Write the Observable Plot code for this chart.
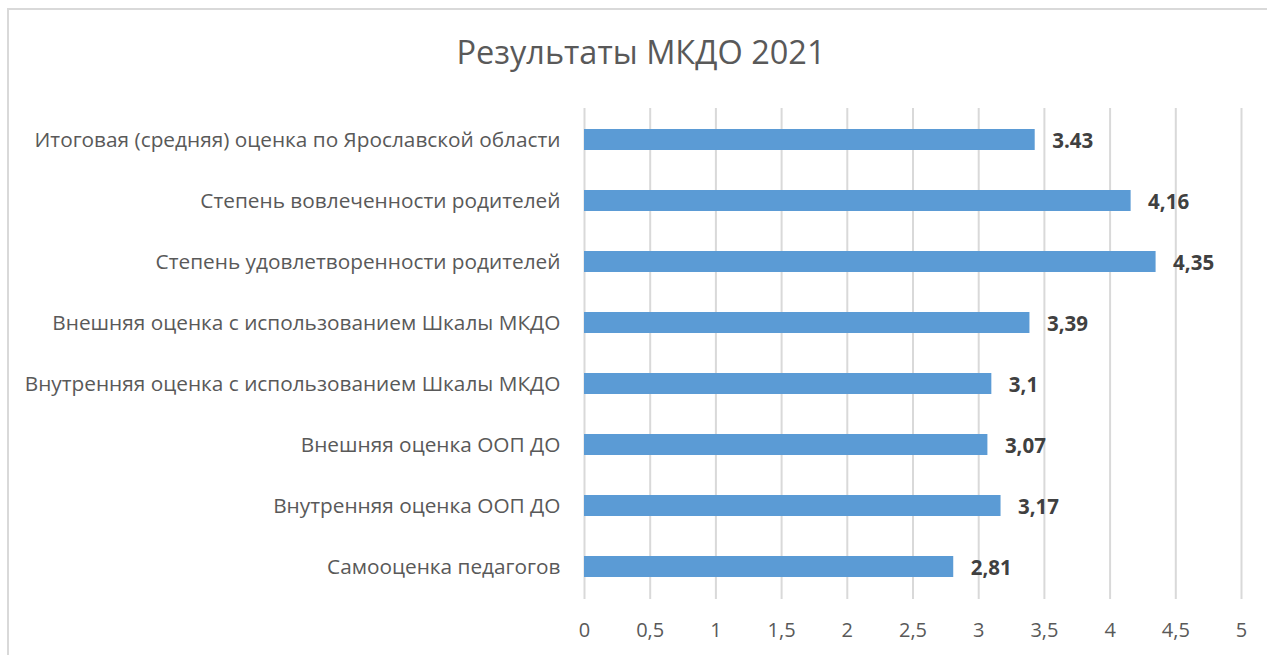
<!DOCTYPE html>
<html><head><meta charset="utf-8">
<script src="https://cdn.jsdelivr.net/npm/d3@7"></script>
<script src="https://cdn.jsdelivr.net/npm/@observablehq/plot@0.6"></script>
<style>
body{margin:0;background:#fff;}
#wrap{position:relative;width:1267px;height:655px;overflow:hidden;font-family:"Open Sans",sans-serif;}
#border{position:absolute;left:7px;top:8px;width:1280px;height:700px;border:2px solid #d9d9d9;box-sizing:border-box;}
#title{position:absolute;left:0;width:1282px;top:29px;text-align:center;font-size:32.5px;color:#595959;}
#chart{position:absolute;left:0;top:0;}
</style>
</head><body>
<div id="wrap"><div id="border"></div><div id="title">Результаты МКДО 2021</div><div id="chart"></div></div>
<script>
const categories = [
  "Итоговая (средняя) оценка по Ярославской области",
  "Степень вовлеченности родителей",
  "Степень удовлетворенности родителей",
  "Внешняя оценка с использованием Шкалы МКДО",
  "Внутренняя оценка с использованием Шкалы МКДО",
  "Внешняя оценка ООП ДО",
  "Внутренняя оценка ООП ДО",
  "Самооценка педагогов"
];
const values = [3.43, 4.16, 4.35, 3.39, 3.1, 3.07, 3.17, 2.81];
const valueLabels = ["3.43", "4,16", "4,35", "3,39", "3,1", "3,07", "3,17", "2,81"];
const xTicks = [0, 0.5, 1, 1.5, 2, 2.5, 3, 3.5, 4, 4.5, 5];
const xTickLabels = ["0", "0,5", "1", "1,5", "2", "2,5", "3", "3,5", "4", "4,5", "5"];

const data = categories.map((c, i) => ({cat: c, v: values[i], label: valueLabels[i]}));

const plot = Plot.plot({
  width: 1267, height: 655,
  marginLeft: 584, marginRight: 26, marginTop: 108, marginBottom: 56,
  style: {fontFamily: "Open Sans, sans-serif", background: "transparent", color: "#595959"},
  x: {domain: [0, 5], ticks: xTicks, tickFormat: (d) => xTickLabels[xTicks.indexOf(d)], label: null},
  y: {domain: categories, paddingInner: 0.65, paddingOuter: 0.325, label: null},
  marks: [
    Plot.gridX(xTicks, {stroke: "#d9d9d9", strokeOpacity: 1, strokeWidth: 2}),
    Plot.barX(data, {x: "v", y: "cat", fill: "#5B9BD5"}),
    Plot.text(data, {x: "v", y: "cat", text: "label", textAnchor: "start", dx: 17, dy: 1, fontWeight: "bold", fontSize: 20.5, fill: "#404040"}),
    Plot.axisX({ticks: xTicks, tickSize: 0, tickPadding: 23, fontSize: 20, fill: "#595959", tickFormat: (d) => xTickLabels[xTicks.indexOf(d)], label: null}),
    Plot.axisY({tickSize: 0, tickPadding: 24, fontSize: 20.8, fill: "#595959", label: null})
  ]
});
document.getElementById("chart").appendChild(plot);
</script>
</body></html>
